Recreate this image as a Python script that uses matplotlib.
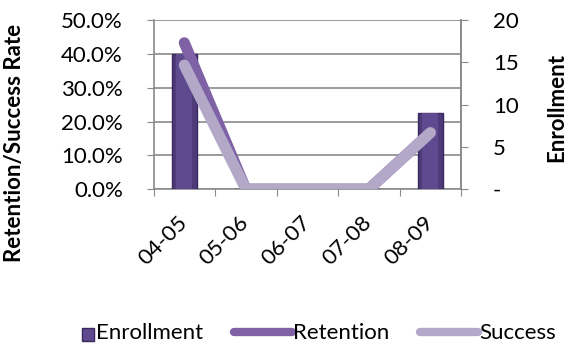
import matplotlib.pyplot as plt
from matplotlib.patches import Patch, Rectangle
from matplotlib.lines import Line2D
from matplotlib.legend_handler import HandlerPatch
from matplotlib.ticker import FuncFormatter

years = ['04-05', '05-06', '06-07', '07-08', '08-09']
enrollment = [16, 0, 0, 0, 9]
retention = [0.433, 0.0, 0.0, 0.0, 0.167]
success = [0.367, 0.0, 0.0, 0.0, 0.167]

plt.rcParams['font.family'] = ['Lato', 'DejaVu Sans']
fs = 16
grid_c = '#8a8a8a'
bar_c = '#4f3a7a'
bar_in = '#5f4a90'
ret_c = '#7f62a6'
suc_c = '#b3a8c7'


class SmallBox(HandlerPatch):
    # square swatch pushed to the right end of the handle area
    def create_artists(self, legend, orig, xd, yd, w, h, fontsize, trans):
        s = h * 1.0
        r = Rectangle((xd + w - s, yd + (h - s) / 2), s, s,
                      facecolor=orig.get_facecolor(), edgecolor=orig.get_edgecolor(),
                      linewidth=1, transform=trans)
        return [r]


fig = plt.figure(figsize=(5.75, 3.47), dpi=100)
ax = fig.add_axes([0.267, 0.455, 0.535, 0.487])
x = list(range(len(years)))

# left axis: rate scale and horizontal grid
ax.set_xlim(-0.5, len(years) - 0.5)
ax.set_ylim(0, 0.5)
ax.set_yticks([0, 0.1, 0.2, 0.3, 0.4, 0.5])
ax.yaxis.set_major_formatter(FuncFormatter(lambda v, p: f'{v * 100:.1f}%'))
ax.grid(axis='y', color=grid_c, linewidth=1.2)
ax.set_axisbelow(True)
ax.set_xticks([i - 0.5 for i in range(len(years) + 1)])
ax.set_xticklabels([])
ax.set_xticks(x, minor=True)
ax.set_xticklabels(years, minor=True, rotation=45, ha='right', va='center',
                   rotation_mode='anchor', fontsize=fs)
ax.tick_params(axis='x', which='minor', length=0, pad=22)
ax.tick_params(axis='x', which='major', length=5, color=grid_c)
ax.tick_params(axis='y', length=5, color=grid_c, labelsize=fs, pad=17)
ax.spines['top'].set_visible(False)
for s in ['left', 'bottom', 'right']:
    ax.spines[s].set_color(grid_c)
    ax.spines[s].set_linewidth(1.2)

# right axis: enrollment bars, darker rim with a lighter core
ax2 = ax.twinx()
ax2.bar(x, enrollment, width=0.4, color=bar_c, edgecolor='#3a285c', linewidth=1)
ax2.bar(x, enrollment, width=0.26, color=bar_in, linewidth=0)
ax2.set_ylim(0, 20)
ax2.set_yticks([0, 5, 10, 15, 20])
ax2.set_yticklabels(['-', '5', '10', '15', '20'])
ax2.tick_params(axis='y', length=5, color=grid_c, labelsize=fs, pad=18)
for s in ['top', 'left', 'bottom']:
    ax2.spines[s].set_visible(False)
ax2.spines['right'].set_color(grid_c)
ax2.spines['right'].set_linewidth(1.2)

# lines on top of the bars, same scale as the left axis
ax3 = ax.twinx()
ax3.set_ylim(0, 0.5)
ax3.axis('off')
ax3.plot(x, retention, color=ret_c, linewidth=8, solid_capstyle='round',
         solid_joinstyle='round')
ax3.plot(x, success, color=suc_c, linewidth=8, solid_capstyle='round',
         solid_joinstyle='round')

fig.text(15 / 575, 1 - 143 / 347, 'Retention/Success Rate', rotation=90,
         ha='center', va='center', fontsize=fs, fontweight='bold')
fig.text(557 / 575, 1 - 107 / 347, 'Enrollment', rotation=90,
         ha='center', va='center', fontsize=fs, fontweight='bold')

handles = [
    Patch(facecolor=bar_in, edgecolor='#3a285c'),
    Line2D([], [], color=ret_c, linewidth=6, solid_capstyle='round'),
    Line2D([], [], color=suc_c, linewidth=6, solid_capstyle='round'),
]
fig.legend(handles, ['Enrollment', 'Retention', 'Success'], loc='center',
           bbox_to_anchor=(0.515, 1 - 333 / 347), ncol=3, frameon=False,
           fontsize=fs, handlelength=2.6, handleheight=0.5, handletextpad=0.05,
           columnspacing=1.4, handler_map={Patch: SmallBox()})

fig.savefig('out.png', dpi=100)
